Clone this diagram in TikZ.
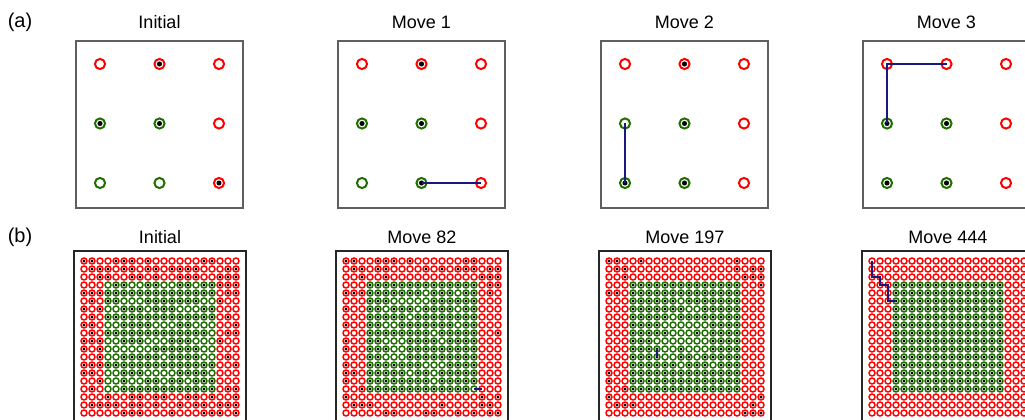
\documentclass[tikz,border=0pt]{standalone}
\usepackage{fontspec}
\setmainfont{Liberation Sans}
\begin{document}
\begin{tikzpicture}[
		x=0.75pt,
		y=-0.75pt,
		every node/.style={font=\fontsize{13.5}{16}\selectfont},
		nhan/.style={font=\fontsize{15}{18}\selectfont},
		khungtren/.style={MauKhung,line width=1.1pt},
		khungduoi/.style={black!85,line width=0.8pt},
		duongtren/.style={MauDuong,line width=1.5pt},
		duongduoi/.style={MauDuong,line width=1.2pt}
	]
	% ===== MÀU SẮC =====
	\definecolor{MauDo}{RGB}{255,0,0}
	\definecolor{MauLuc}{RGB}{30,110,0}
	\definecolor{MauDuong}{RGB}{25,25,125}
	\definecolor{MauKhung}{RGB}{95,95,95}

	% ===== KHUNG HÌNH =====
	\useasboundingbox (0,0) rectangle (1025,420);
	\clip (0,0) rectangle (1025,420);

	% ===== Ô TRÒN =====
	\def\ODong#1{\ifx#1\relax\else\OTron{#1}\expandafter\ODong\fi}
	\def\OTron#1{%
		\pgfmathtruncatemacro\cotso{\cotso+1}%
		\pgfmathtruncatemacro\laluc{(\cotso>=\lucA)*(\cotso<=\lucB)*(\hangso>=\lucC)*(\hangso<=\lucD)}%
		\coordinate (\tenluoi-\cotso-\hangso) at (\gocx+\buoc*\cotso-\buoc,\gocy+\buoc*\hangso-\buoc);
		\ifnum\laluc=1 \def\mauvong{MauLuc}\else\def\mauvong{MauDo}\fi
		\draw[\mauvong,line width=\netvong] (\tenluoi-\cotso-\hangso) circle (\bkvong);
		\if#11\fill[black] (\tenluoi-\cotso-\hangso) circle (\bkcham);\fi}

	% ===== KHUNG (a) VÀ (b) =====
	\def\KhungA#1#2#3#4{%
		\draw[khungtren] (#2,41) rectangle ++(167,167);
		\node (tieude-#1) at (#2+83.5,22) {#3};
		\def\tenluoi{#1}\pgfmathsetmacro\gocx{#2+24}\def\gocy{64}%
		\foreach \chuoi [count=\hangso] in {#4} {\def\cotso{0}\expandafter\ODong\chuoi\relax}}
	\def\KhungB#1#2#3#4{%
		\draw[khungduoi] (#2,251) rectangle ++(172,185);
		\node (tieude-#1) at (#2+86,237) {#3};
		\def\tenluoi{#1}\pgfmathsetmacro\gocx{#2+10}\def\gocy{261}%
		\foreach \chuoi [count=\hangso] in {#4} {\def\cotso{0}\expandafter\ODong\chuoi\relax}}

	% ===== HÀNG (a) =====
	\node[nhan] (nhan-a) at (20,22) {(a)};
	\def\buoc{59.5}\def\bkvong{3.8pt}\def\bkcham{1.9pt}\def\netvong{1.5pt}
	\def\lucA{1}\def\lucB{2}\def\lucC{2}\def\lucD{3}
	\KhungA{a0}{76}{Initial}{010,110,001}
	\KhungA{a1}{338}{Move 1}{010,110,010}
	\KhungA{a2}{601}{Move 2}{010,010,110}
	\KhungA{a3}{863}{Move 3}{000,110,110}

	\draw[duongtren] (a1-2-3) -- (a1-3-3);
	\draw[duongtren] (a2-1-2) -- (a2-1-3);
	\draw[duongtren] (a3-2-1) -- (a3-1-1) -- (a3-1-2);

	% ===== HÀNG (b) =====
	\node[nhan] (nhan-b) at (20,237) {(b)};
	\def\buoc{8}\def\bkvong{2.25pt}\def\bkcham{1.25pt}\def\netvong{1.1pt}
	\def\lucA{4}\def\lucB{17}\def\lucC{4}\def\lucD{17}
	\KhungB{b0}{74}{Initial}{
		11001110100000011000,01110110110111100011,00110011010011100111,00001100110011011111,
		11111111111111111011,01011000111111100100,10100111011100011000,01011111111111111010,
		11000111100011000001,01011111111111110011,11100111000111000100,10100000011111100000,
		00100111110111100010,11111111111111111001,11000111000011110000,00100100110110111000,
		01000111111111111011,00010011011001101001,01111011010010110111,00000111000100011101}
	\KhungB{b1}{336}{Move 82}{
		11001110100000011000,01101100001010111011,00100100000000000111,00011111111111111011,
		11111111110111011010,00011100000111111000,10011011101111011000,00011111011111111000,
		10011001111111011000,00011111111011111001,10011000111101111000,10011100111111111000,
		00011000111111111000,10011111110001111000,11011111011011111000,10011111111011111000,
		00111111111111110000,10000000000000000101,01110000000010000110,00000110001100101011}
	\KhungB{b2}{599}{Move 197}{
		11001000000000001000,01100000000000001011,00100000000000000111,00011111111111111001,
		11011111111111111000,00011111101111111000,00011111110011111000,00011111011111111000,
		00011110000001111000,00011111000101111000,00011100000001111000,00011110010001111000,
		00011110011011111000,00011111101110111000,10011111111111111000,10011111111111111000,
		00111111111111111000,10000000000000000001,01110000000000000010,00000000000000000111}
	\KhungB{b3}{862}{Move 444}{
		00000000000000000000,00000000000000000000,00000000000000000000,00011111111111111000,
		00011111111111111000,00011111111111111000,00011111111111111000,00011111111111111000,
		00011111111111111000,00011111111111111000,00011111111111111000,00011111111111111000,
		00011111111111111000,00011111111111111000,00011111111111111000,00011111111111111000,
		00011111111111111000,00000000000000000000,00000000000000000000,00000000000000000000}

	\draw[duongduoi] (b1-17-17) -- (b1-18-17);
	\draw[duongduoi] (b2-7-12) -- (b2-7-13);
	\draw[duongduoi] (b3-1-1) -- (b3-1-3) -- (b3-2-3) -- (b3-2-4) -- (b3-3-4) -- (b3-3-6) -- (b3-4-6);

\end{tikzpicture}
\end{document}
